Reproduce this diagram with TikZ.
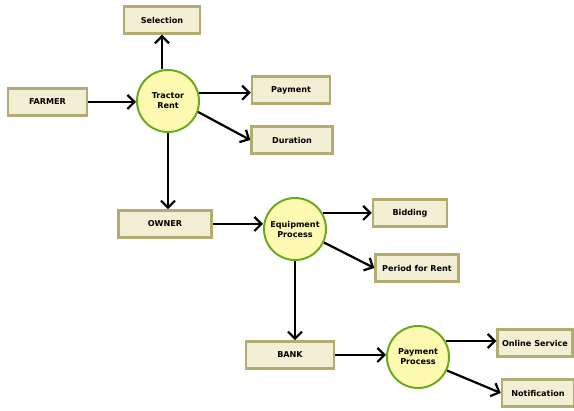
\documentclass[tikz,border=0pt]{standalone}
\usepackage{fontspec}
\setmainfont{DejaVu Sans}
\usepackage{tikz}
\usetikzlibrary{shapes,arrows.meta,positioning}
\usepackage{xcolor}
\definecolor{boxfill}{HTML}{F2EFD4}
\definecolor{boxline}{HTML}{B2AC72}
\definecolor{procfill}{HTML}{FEF9B0}
\definecolor{procline}{HTML}{6AAB1E}

\begin{document}
\begin{tikzpicture}[x=1pt, y=-1pt,
    entity/.style={draw=boxline, line width=2.5pt, fill=boxfill, rectangle, minimum height=27pt, inner sep=1pt, font=\fontsize{8.1}{9}\selectfont\bfseries},
    process/.style={draw=procline, line width=2pt, fill=procfill, circle, minimum size=62pt, inner sep=0pt, align=center, font=\fontsize{8.1}{10}\selectfont\bfseries},
    flow/.style={-{Straight Barb[length=7pt,width=14pt,line width=2.2pt]}, line width=2.2pt}]
    \useasboundingbox (0,0) rectangle (574,411);

    % first level
    \node[entity, minimum width=76pt] (selection) at (162,20) {Selection};
    \node[entity, minimum width=79pt] (farmer) at (47.5,102) {FARMER};
    \node[process] (tractor) at (168,101) {Tractor\\Rent};
    \node[entity, minimum width=78pt] (payment) at (291,90) {Payment};
    \node[entity, minimum width=81pt] (duration) at (292,140) {Duration};

    % second level
    \node[entity, minimum width=93pt] (owner) at (165,224) {OWNER};
    \node[process] (equip) at (295,229) {Equipment\\Process};
    \node[entity, minimum width=74pt] (bidding) at (410,213) {Bidding};
    \node[entity, minimum width=83pt] (period) at (417,268) {Period for Rent};

    % third level
    \node[entity, minimum width=88pt] (bank) at (290,355) {BANK};
    \node[process] (payproc) at (418,357) {Payment\\Process};
    \node[entity, minimum width=75pt] (online) at (535,343) {Online Service};
    \node[entity, minimum width=72pt] (notif) at (538,393) {Notification};

    \draw[flow] (tractor.north -| selection.south) -- (selection.south);
    \draw[flow] (farmer.east) -- (tractor.west |- farmer.east);
    \draw[flow] (tractor.15) -- (payment.west |- tractor.15);
    \draw[flow] (tractor.-20) -- (duration.west);
    \draw[flow] (tractor.south) -- (tractor.south |- owner.north);

    \draw[flow] (owner.east) -- (equip.west |- owner.east);
    \draw[flow] (equip.30) -- (bidding.west |- equip.30);
    \draw[flow] (equip.-25) -- (period.west);
    \draw[flow] (equip.south) -- (equip.south |- bank.north);

    \draw[flow] (bank.east) -- (payproc.west |- bank.east);
    \draw[flow] (payproc.30) -- (online.west |- payproc.30);
    \draw[flow] (payproc.-25) -- (notif.west);
\end{tikzpicture}
\end{document}
